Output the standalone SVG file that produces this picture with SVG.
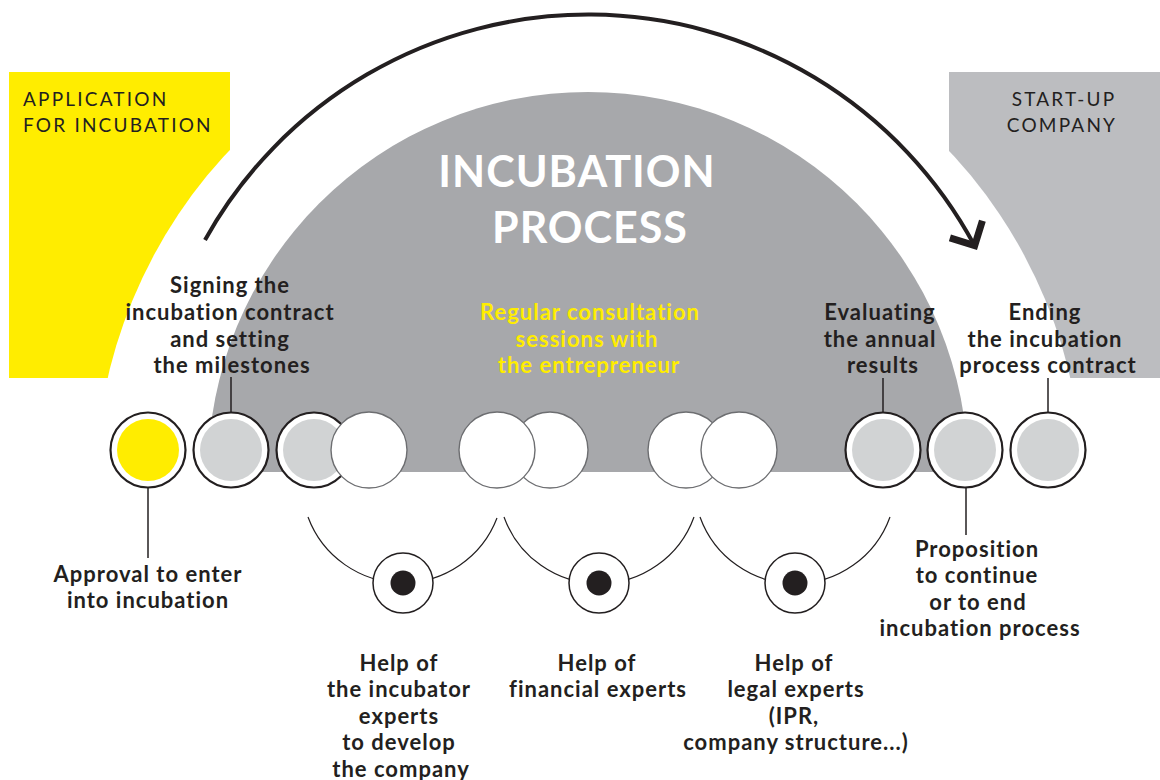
<svg xmlns="http://www.w3.org/2000/svg" width="1160" height="780" viewBox="0 0 1160 780">
  <style>
    .lbl { font-family: Lato, "Open Sans", "Liberation Sans", sans-serif; font-weight: bold; font-size: 22px; letter-spacing: 1px; fill: #231f20; text-anchor: middle; }
    .yel { fill: #ffed00; }
    .hdr { font-family: Lato, "Open Sans", "Liberation Sans", sans-serif; font-size: 19px; fill: #231f20; letter-spacing: 2.2px; }
    .title { font-family: Lato, "Open Sans", "Liberation Sans", sans-serif; font-weight: bold; font-size: 43px; fill: #ffffff; text-anchor: middle; letter-spacing: 1px; }
    .tick { stroke: #231f20; stroke-width: 1.5; fill: none; }
    .ring { fill: #ffffff; stroke: #231f20; stroke-width: 2.2; }
    .core { fill: #d1d3d4; }
    .wc { fill: #ffffff; stroke: #6d6e71; stroke-width: 1.4; }
    .smile { fill: none; stroke: #231f20; stroke-width: 1.2; }
    .eye { fill: #ffffff; stroke: #231f20; stroke-width: 1.5; }
  </style>

  <g id="background">
    <rect x="9" y="72" width="221" height="306" fill="#ffed00"/>
    <rect x="949" y="72" width="211" height="306" fill="#bcbdc0"/>
    <circle cx="589" cy="489" r="494" fill="#ffffff"/>
    <path d="M208 472 A380 380 0 0 1 968 472 Z" fill="#a7a8ab"/>
  </g>

  <g id="header-application">
    <text class="hdr" x="23" y="106">APPLICATION</text>
    <text class="hdr" x="23" y="132">FOR INCUBATION</text>
  </g>
  <g id="header-startup">
    <text class="hdr" x="1064" y="106" text-anchor="middle">START-UP</text>
    <text class="hdr" x="1062" y="132" text-anchor="middle">COMPANY</text>
  </g>

  <g id="title">
    <text class="title" x="577" y="187">INCUBATION</text>
    <text class="title" x="590" y="243">PROCESS</text>
  </g>

  <g id="connectors">
    <path d="M205 240 A438.5 438.5 0 0 1 974.5 245.5" fill="none" stroke="#231f20" stroke-width="4"/>
    <polyline points="949.9,237.9 974.7,245.6 982.4,220.8" fill="none" stroke="#231f20" stroke-width="7" stroke-linejoin="miter"/>
    <line class="tick" x1="231" y1="377" x2="231" y2="412"/>
    <line class="tick" x1="883" y1="378" x2="883" y2="412"/>
    <line class="tick" x1="1048" y1="378" x2="1048" y2="412"/>
    <line class="tick" x1="148" y1="488" x2="148" y2="558"/>
    <line class="tick" x1="966" y1="488" x2="966" y2="535"/>
    <path class="smile" d="M308 517 A101 101 0 0 0 497 518"/>
    <path class="smile" d="M504 517 A101 101 0 0 0 694 517"/>
    <path class="smile" d="M700 517 A101 101 0 0 0 890 517"/>
  </g>

  <g id="node-approval">
    <circle class="ring" cx="148" cy="450" r="37.5"/>
    <circle cx="148" cy="450" r="31" fill="#ffed00"/>
  </g>
  <g id="node-signing">
    <circle class="ring" cx="231" cy="450" r="37.5"/>
    <circle class="core" cx="231" cy="450" r="31"/>
  </g>
  <g id="node-step3">
    <circle class="ring" cx="314" cy="450" r="37.5"/>
    <circle class="core" cx="314" cy="450" r="31"/>
    <circle class="wc" cx="369" cy="450" r="38"/>
  </g>
  <g id="node-consult-1">
    <circle class="wc" cx="550" cy="450" r="38"/>
    <circle class="wc" cx="497" cy="450" r="38"/>
  </g>
  <g id="node-consult-2">
    <circle class="wc" cx="686" cy="450" r="38"/>
    <circle class="wc" cx="739" cy="450" r="38"/>
  </g>
  <g id="node-evaluating">
    <circle class="ring" cx="883" cy="450" r="37.5"/>
    <circle class="core" cx="883" cy="450" r="31"/>
  </g>
  <g id="node-proposition">
    <circle class="ring" cx="965" cy="450" r="37.5"/>
    <circle class="core" cx="965" cy="450" r="31"/>
  </g>
  <g id="node-ending">
    <circle class="ring" cx="1048" cy="450" r="37.5"/>
    <circle class="core" cx="1048" cy="450" r="31"/>
  </g>

  <g id="help-incubator">
    <circle class="eye" cx="403" cy="583" r="30"/>
    <circle cx="403" cy="583" r="12.5" fill="#231f20"/>
  </g>
  <g id="help-financial">
    <circle class="eye" cx="599" cy="583" r="30"/>
    <circle cx="599" cy="583" r="12.5" fill="#231f20"/>
  </g>
  <g id="help-legal">
    <circle class="eye" cx="795" cy="583" r="30"/>
    <circle cx="795" cy="583" r="12.5" fill="#231f20"/>
  </g>

  <g id="labels">
    <text class="lbl" x="230" y="293">Signing the</text>
    <text class="lbl" x="230" y="320">incubation contract</text>
    <text class="lbl" x="230" y="347">and setting</text>
    <text class="lbl" x="232" y="373">the milestones</text>

    <text class="lbl yel" x="590" y="320">Regular consultation</text>
    <text class="lbl yel" x="587" y="347">sessions with</text>
    <text class="lbl yel" x="589" y="373">the entrepreneur</text>

    <text class="lbl" x="880" y="320">Evaluating</text>
    <text class="lbl" x="880" y="347">the annual</text>
    <text class="lbl" x="883" y="373">results</text>

    <text class="lbl" x="1045" y="320">Ending</text>
    <text class="lbl" x="1045" y="347">the incubation</text>
    <text class="lbl" x="1048" y="373">process contract</text>

    <text class="lbl" x="148" y="582">Approval to enter</text>
    <text class="lbl" x="148" y="608">into incubation</text>

    <text class="lbl" x="977" y="557">Proposition</text>
    <text class="lbl" x="977" y="583">to continue</text>
    <text class="lbl" x="978" y="610">or to end</text>
    <text class="lbl" x="980" y="636">incubation process</text>

    <text class="lbl" x="399" y="671">Help of</text>
    <text class="lbl" x="399" y="697">the incubator</text>
    <text class="lbl" x="399" y="724">experts</text>
    <text class="lbl" x="399" y="750">to develop</text>
    <text class="lbl" x="401" y="777">the company</text>

    <text class="lbl" x="597" y="671">Help of</text>
    <text class="lbl" x="598" y="697">financial experts</text>

    <text class="lbl" x="794" y="671">Help of</text>
    <text class="lbl" x="796" y="697">legal experts</text>
    <text class="lbl" x="794" y="724">(IPR,</text>
    <text class="lbl" x="796" y="750">company structure...)</text>
  </g>
</svg>
